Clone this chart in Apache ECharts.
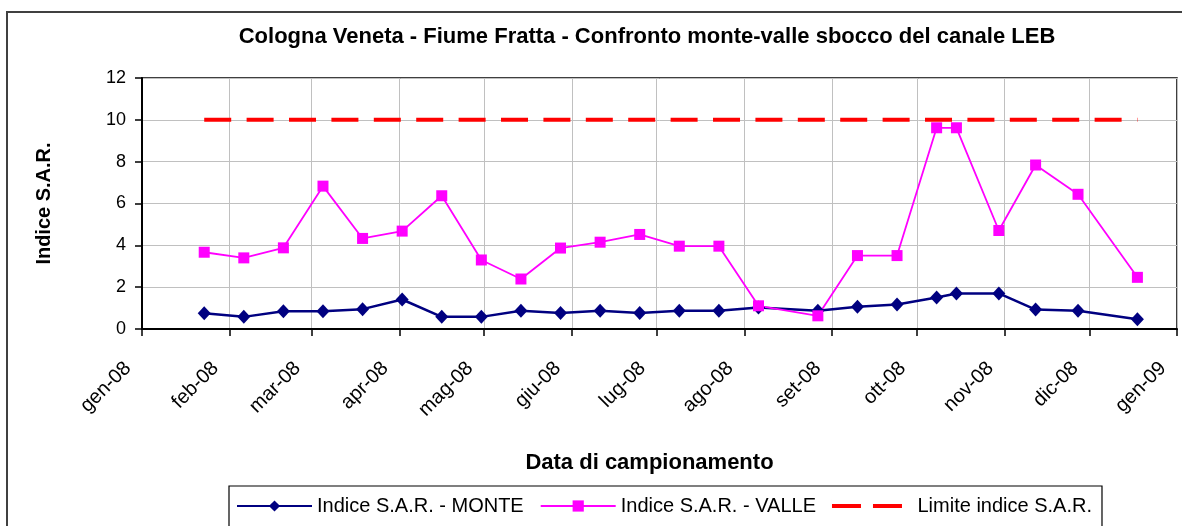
<!DOCTYPE html>
<html lang="it">
<head>
<meta charset="UTF-8" />
<title>Indice S.A.R. - Fiume Fratta</title>
<style>
  html, body { margin: 0; padding: 0; background: #fff; }
  #app { width: 1182px; height: 526px; }
</style>
</head>
<body>
<div id="app"></div>
<script src="https://cdn.jsdelivr.net/npm/echarts@6/dist/echarts.min.js"></script>
<script>
var dates = ['2008-01-23', '2008-02-06', '2008-02-20', '2008-03-05', '2008-03-19', '2008-04-02',
  '2008-04-16', '2008-04-30', '2008-05-14', '2008-05-28', '2008-06-11', '2008-06-25',
  '2008-07-09', '2008-07-23', '2008-08-06', '2008-08-27', '2008-09-10', '2008-09-24',
  '2008-10-08', '2008-10-15', '2008-10-30', '2008-11-12', '2008-11-27', '2008-12-18']
var monte = [0.75, 0.58, 0.85, 0.85, 0.95, 1.41, 0.58, 0.58, 0.87, 0.77, 0.87, 0.77,
  0.87, 0.87, 1.03, 0.87, 1.06, 1.17, 1.51, 1.70, 1.70, 0.93, 0.87, 0.47]
var valle = [3.67, 3.40, 3.88, 6.83, 4.33, 4.68, 6.37, 3.30, 2.39, 3.87, 4.15, 4.52,
  3.96, 3.96, 1.11, 0.63, 3.51, 3.51, 9.62, 9.62, 4.71, 7.84, 6.44, 2.47]
var limite = 10
var mesi = ['gen', 'feb', 'mar', 'apr', 'mag', 'giu', 'lug', 'ago', 'set', 'ott', 'nov', 'dic']

var DAY = 86400000
var font = 'Arial, "Liberation Sans", sans-serif'

function pairs(vals) {
  return dates.map(function(d, i) {
    return [d, Array.isArray(vals) ? vals[i] : vals]
  })
}

// two red dashes for the legend; the hairline keeps the 14px height so the dashes stay thin
var dashIcon = 'path://M0,0L0.01,0L0,14Z M0,5h29v4h-29Z M41,5h29v4h-29Z'

var chart = echarts.init(document.getElementById('app'))
chart.setOption({
  backgroundColor: '#fff',
  animation: false,
  textStyle: { fontFamily: font },
  title: {
    text: 'Cologna Veneta - Fiume Fratta - Confronto monte-valle sbocco del canale LEB',
    left: 642,
    textAlign: 'center',
    top: 21,
    textStyle: { fontFamily: font, fontSize: 22, fontWeight: 'bold', color: '#000' }
  },
  graphic: [{
    type: 'rect',
    shape: { x: 7, y: 12, width: 1190, height: 600 },
    style: { fill: 'none', stroke: '#404040', lineWidth: 2 },
    silent: true
  }],
  grid: {
    left: 142, top: 78, width: 1035, height: 251,
    show: true, borderColor: '#000', borderWidth: 1.5,
    outerBoundsMode: 'none'
  },
  legend: {
    left: 229, top: 486,
    padding: [10, 10, 30, 7],
    itemGap: 16, itemWidth: 75, itemHeight: 14,
    borderColor: '#000', borderWidth: 1.2,
    textStyle: { fontFamily: font, fontSize: 20, color: '#000' },
    data: [
      'Indice S.A.R. - MONTE',
      'Indice S.A.R. - VALLE',
      {
        name: 'Limite indice S.A.R.', icon: dashIcon,
        itemStyle: { color: '#ff0000', borderWidth: 0 },
        textStyle: { padding: [0, 0, 0, 8] }
      }
    ]
  },
  xAxis: {
    type: 'time',
    min: '2008-01-01', max: '2009-01-01',
    minInterval: 28 * DAY, maxInterval: 31 * DAY,
    name: 'Data di campionamento',
    nameLocation: 'middle',
    nameGap: 123,
    nameTextStyle: { fontFamily: font, fontSize: 22, fontWeight: 'bold', color: '#000', padding: [0, 20, 0, 0] },
    axisLine: { lineStyle: { color: '#000', width: 2 } },
    axisTick: { show: true, length: 7, lineStyle: { color: '#000', width: 1.5 } },
    splitLine: { show: true, lineStyle: { color: '#c0c0c0', width: 1 } },
    axisLabel: {
      rotate: 45, margin: 22, interval: 0,
      padding: [0, 20, 0, 0],
      showMinLabel: true, showMaxLabel: true, hideOverlap: false,
      fontFamily: font, fontSize: 20, color: '#000',
      formatter: function(v) {
        var d = new Date(v)
        return mesi[d.getMonth()] + '-' + String(d.getFullYear()).slice(2)
      }
    }
  },
  yAxis: {
    type: 'value', min: 0, max: 12, interval: 2,
    name: 'Indice S.A.R.',
    nameLocation: 'middle',
    nameGap: 88,
    nameTextStyle: { fontFamily: font, fontSize: 20, fontWeight: 'bold', color: '#000' },
    axisLine: { show: true, lineStyle: { color: '#000', width: 2 } },
    axisTick: { show: true, length: 7, lineStyle: { color: '#000', width: 1.5 } },
    splitLine: { lineStyle: { color: '#c0c0c0', width: 1 } },
    axisLabel: { margin: 16, fontFamily: font, fontSize: 18, color: '#000' }
  },
  series: [
    {
      name: 'Indice S.A.R. - MONTE',
      type: 'line',
      data: pairs(monte),
      symbol: 'diamond', symbolSize: [13, 14],
      color: '#000080',
      lineStyle: { color: '#000080', width: 2.5 },
      itemStyle: { color: '#000080' }
    },
    {
      name: 'Indice S.A.R. - VALLE',
      type: 'line',
      data: pairs(valle),
      symbol: 'rect', symbolSize: 11,
      color: '#ff00ff',
      lineStyle: { color: '#ff00ff', width: 1.8 },
      itemStyle: { color: '#ff00ff' }
    },
    {
      name: 'Limite indice S.A.R.',
      type: 'line',
      data: pairs(limite),
      symbol: 'none',
      color: '#ff0000',
      lineStyle: { color: '#ff0000', width: 4, type: [27, 15.4] },
      itemStyle: { color: '#ff0000' }
    }
  ]
})
</script>
</body>
</html>
